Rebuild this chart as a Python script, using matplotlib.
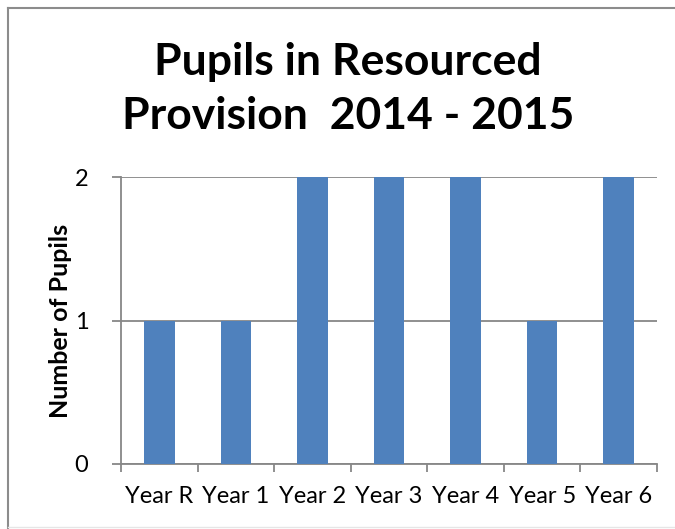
import matplotlib
matplotlib.use("Agg")
import matplotlib.pyplot as plt
from matplotlib.lines import Line2D

categories = ["Year R", "Year 1", "Year 2", "Year 3", "Year 4", "Year 5", "Year 6"]
pupils = [1, 1, 2, 2, 2, 1, 2]
yticks = [0, 1, 2]
title = "Pupils in Resourced\nProvision  2014 - 2015"

plt.rcParams['font.family'] = ['Lato', 'DejaVu Sans']
W, H = 675, 529
fig = plt.figure(figsize=(W/100, H/100), dpi=100)
fig.patch.set_facecolor('white')

# outer border (left + top visible, faint bottom)
def fline(xs, ys, color, lw):
    fig.add_artist(Line2D([v/W for v in xs], [1 - v/H for v in ys],
                          transform=fig.transFigure, color=color, linewidth=lw))
fline([7.5, 7.5], [7.5, 529], '#8c8c8c', 1.5)
fline([7.5, 675], [7.5, 7.5], '#8c8c8c', 1.5)
fline([7.5, 675], [527, 527], '#e6e6e6', 1.0)

x0, x1 = 121, 657
ytop, ybot = 177, 464
ax = fig.add_axes([x0/W, 1-ybot/H, (x1-x0)/W, (ybot-ytop)/H])
grey = '#878787'
x = list(range(len(categories)))
ax.bar(x, pupils, width=0.4, color='#4F81BD', zorder=3)
ax.set_xlim(-0.5, len(categories)-0.5)
ax.set_ylim(0, 2)
ax.set_yticks(yticks)
ax.set_yticklabels([str(v) for v in yticks], fontsize=17)
ax.set_xticks(x)
ax.set_xticklabels(categories, fontsize=17)
ax.tick_params(axis='x', length=0, pad=16)
ax.set_xticks([i - 0.5 for i in range(len(categories)+1)], minor=True)
ax.tick_params(axis='x', which='minor', length=6, color=grey, width=1.3)
ax.tick_params(axis='y', length=6.5, color=grey, width=1.3, pad=17)
ax.yaxis.grid(True, color=grey, linewidth=1.3, zorder=0)
for s in ['top', 'right']:
    ax.spines[s].set_visible(False)
for s in ['left', 'bottom']:
    ax.spines[s].set_color(grey)
    ax.spines[s].set_linewidth(1.3)
ax.set_ylabel("Number of Pupils", fontsize=18, fontweight='bold', labelpad=2)

fig.text(348/W, 1 - 42/H, title, ha='center', va='top',
         fontsize=32, fontweight='bold', linespacing=1.42)

fig.savefig("out.png", dpi=100, facecolor='white')
